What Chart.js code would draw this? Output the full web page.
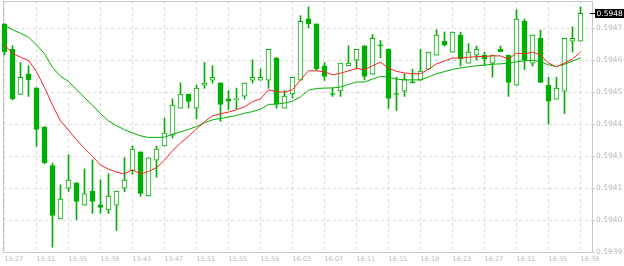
<!DOCTYPE html>
<html lang="en">
<head>
    <meta charset="UTF-8">
    <title>Chart</title>
    <script src="https://cdn.jsdelivr.net/npm/chart.js"></script>
    <style>
        body { margin: 0; background: #fff; }
        canvas { display: block; }
    </style>
</head>
<body>
    <canvas id="priceChart" width="624" height="266"></canvas>

    <script>
        // candles, one per minute from 15:27 to 16:39
        const opens = [
            0.594756, 0.594662, 0.594491, 0.594569, 0.594516, 0.594370, 0.594224, 0.594024, 0.594140, 0.594160,
            0.594076, 0.594129, 0.594077, 0.594058, 0.594076, 0.594140, 0.594205, 0.594276, 0.594110, 0.594245,
            0.594298, 0.594338, 0.594440, 0.594493, 0.594440, 0.594526, 0.594545, 0.594535, 0.594475, 0.594472,
            0.594485, 0.594545, 0.594545, 0.594545, 0.594629, 0.594440, 0.594493, 0.594545, 0.594775, 0.594756,
            0.594599, 0.594491, 0.594505, 0.594598, 0.594620, 0.594674, 0.594567, 0.594674, 0.594662, 0.594491,
            0.594504, 0.594535, 0.594545, 0.594586, 0.594639, 0.594691, 0.594650, 0.594714, 0.594609, 0.594639,
            0.594639, 0.594609, 0.594661, 0.594639, 0.594526, 0.594766, 0.594609, 0.594702, 0.594526, 0.594474,
            0.594504, 0.594691, 0.594691
        ];
        const highs = [
            0.594756, 0.594674, 0.594611, 0.594599, 0.594516, 0.594370, 0.594234, 0.594152, 0.594265, 0.594160,
            0.594212, 0.594246, 0.594171, 0.594194, 0.594129, 0.594254, 0.594298, 0.594276, 0.594253, 0.594298,
            0.594402, 0.594475, 0.594535, 0.594493, 0.594527, 0.594611, 0.594599, 0.594535, 0.594506, 0.594515,
            0.594534, 0.594621, 0.594587, 0.594661, 0.594629, 0.594506, 0.594556, 0.594787, 0.594820, 0.594756,
            0.594611, 0.594515, 0.594609, 0.594674, 0.594661, 0.594674, 0.594716, 0.594694, 0.594662, 0.594556,
            0.594569, 0.594586, 0.594661, 0.594650, 0.594734, 0.594726, 0.594725, 0.594725, 0.594682, 0.594673,
            0.594650, 0.594639, 0.594673, 0.594639, 0.594809, 0.594775, 0.594714, 0.594733, 0.594556, 0.594556,
            0.594702, 0.594745, 0.594820
        ];
        const lows = [
            0.594640, 0.594471, 0.594491, 0.594484, 0.594296, 0.594231, 0.593918, 0.594024, 0.594127, 0.594021,
            0.594076, 0.594045, 0.594045, 0.594045, 0.593981, 0.594127, 0.594192, 0.594109, 0.594110, 0.594181,
            0.594298, 0.594328, 0.594440, 0.594440, 0.594399, 0.594514, 0.594534, 0.594390, 0.594434, 0.594437,
            0.594474, 0.594534, 0.594545, 0.594515, 0.594439, 0.594440, 0.594478, 0.594545, 0.594741, 0.594581,
            0.594544, 0.594484, 0.594484, 0.594598, 0.594587, 0.594546, 0.594567, 0.594629, 0.594439, 0.594431,
            0.594484, 0.594534, 0.594545, 0.594586, 0.594639, 0.594673, 0.594650, 0.594598, 0.594609, 0.594620,
            0.594599, 0.594556, 0.594652, 0.594484, 0.594526, 0.594584, 0.594598, 0.594536, 0.594380, 0.594474,
            0.594420, 0.594650, 0.594691
        ];
        const closes = [
            0.594652, 0.594475, 0.594556, 0.594547, 0.594360, 0.594235, 0.594037, 0.594099, 0.594170, 0.594090,
            0.594118, 0.594090, 0.594067, 0.594110, 0.594129, 0.594170, 0.594286, 0.594120, 0.594253, 0.594286,
            0.594346, 0.594451, 0.594493, 0.594465, 0.594515, 0.594534, 0.594556, 0.594454, 0.594466, 0.594475,
            0.594534, 0.594556, 0.594556, 0.594661, 0.594455, 0.594485, 0.594556, 0.594766, 0.594757, 0.594587,
            0.594559, 0.594491, 0.594609, 0.594609, 0.594661, 0.594559, 0.594702, 0.594674, 0.594476, 0.594491,
            0.594547, 0.594535, 0.594579, 0.594650, 0.594714, 0.594676, 0.594725, 0.594626, 0.594650, 0.594661,
            0.594624, 0.594639, 0.594652, 0.594536, 0.594774, 0.594621, 0.594714, 0.594536, 0.594466, 0.594515,
            0.594702, 0.594702, 0.594796
        ];
        // moving averages as drawn (fast red, slow green)
        const maFast = [
            0.594677, 0.594646, 0.594631, 0.594619, 0.594577, 0.594518, 0.594451, 0.594392, 0.594357, 0.594321,
            0.594289, 0.594259, 0.594226, 0.594211, 0.594200, 0.594193, 0.594209, 0.594193, 0.594202, 0.594217,
            0.594244, 0.594280, 0.594309, 0.594334, 0.594362, 0.594389, 0.594411, 0.594419, 0.594425, 0.594434,
            0.594445, 0.594464, 0.594475, 0.594509, 0.594502, 0.594500, 0.594509, 0.594546, 0.594580, 0.594580,
            0.594576, 0.594565, 0.594571, 0.594580, 0.594589, 0.594584, 0.594599, 0.594613, 0.594590, 0.594578,
            0.594572, 0.594569, 0.594569, 0.594586, 0.594606, 0.594617, 0.594628, 0.594628, 0.594631, 0.594633,
            0.594634, 0.594636, 0.594636, 0.594624, 0.594646, 0.594644, 0.594650, 0.594640, 0.594609, 0.594595,
            0.594609, 0.594624, 0.594650
        ];
        const maSlow = [
            0.594751, 0.594734, 0.594721, 0.594706, 0.594677, 0.594644, 0.594593, 0.594559, 0.594540, 0.594509,
            0.594479, 0.594451, 0.594419, 0.594392, 0.594374, 0.594359, 0.594347, 0.594336, 0.594330, 0.594330,
            0.594331, 0.594342, 0.594351, 0.594360, 0.594371, 0.594385, 0.594396, 0.594401, 0.594407, 0.594412,
            0.594421, 0.594427, 0.594436, 0.594454, 0.594455, 0.594459, 0.594466, 0.594482, 0.594507, 0.594514,
            0.594515, 0.594516, 0.594519, 0.594529, 0.594538, 0.594538, 0.594549, 0.594559, 0.594556, 0.594549,
            0.594546, 0.594546, 0.594546, 0.594557, 0.594569, 0.594577, 0.594585, 0.594591, 0.594595, 0.594599,
            0.594601, 0.594605, 0.594606, 0.594609, 0.594614, 0.594618, 0.594619, 0.594615, 0.594602, 0.594596,
            0.594605, 0.594616, 0.594628
        ];

        const xTickPositions = [0, 4, 8, 12, 16, 20, 24, 28, 32, 36, 40, 44, 48, 52, 56, 60, 64, 68, 72];
        const xTickLabels = ['15:27', '15:31', '15:35', '15:39', '15:43', '15:47', '15:51', '15:55', '15:59', '16:03',
                             '16:07', '16:11', '16:15', '16:19', '16:23', '16:27', '16:31', '16:35', '16:39'];
        const yTickValues = [0.59474, 0.59462, 0.5945, 0.59438, 0.59426, 0.59414, 0.59402, 0.5939];
        const yTickLabels = ['0.5947', '0.5946', '0.5945', '0.5944', '0.5943', '0.5941', '0.5940', '0.5939'];

        const green = '#00b000';
        const gridColor = '#dcdcdc';
        const labelColor = '#b8b8b8';

        // plot frame
        const framePlugin = {
            id: 'frame',
            beforeDatasetsDraw(chart) {
                const { ctx, chartArea: a } = chart;
                ctx.save();
                ctx.strokeStyle = '#c8c8c8';
                ctx.lineWidth = 1;
                ctx.strokeRect(a.left + 0.5, a.top + 0.5, a.right - a.left, a.bottom - a.top);
                ctx.restore();
            }
        };

        // last price marker on the right axis
        const lastPricePlugin = {
            id: 'lastPrice',
            afterDraw(chart) {
                const { ctx, chartArea: a, scales } = chart;
                const last = closes[closes.length - 1];
                const py = Math.round(scales.y.getPixelForValue(last)) + 0.5;
                const txt = last.toFixed(4);
                ctx.save();
                ctx.font = '7.5px "DejaVu Sans"';
                const w = ctx.measureText(txt).width;
                ctx.strokeStyle = '#000';
                ctx.beginPath();
                ctx.moveTo(a.right - 2, py);
                ctx.lineTo(a.right + 3, py);
                ctx.stroke();
                ctx.fillStyle = '#000';
                ctx.fillRect(a.right + 3, py - 4.5, w + 3, 9);
                ctx.fillStyle = '#fff';
                ctx.textBaseline = 'middle';
                ctx.fillText(txt, a.right + 4.5, py + 0.5);
                ctx.restore();
            }
        };

        // fixed axis sizes, no extra label padding
        const fixX = s => { s.height = 14; s.paddingLeft = 0; s.paddingRight = 0; };
        const fixY = s => { s.width = 32; s.paddingTop = 0; s.paddingBottom = 0; };

        const idx = closes.map((c, i) => i);

        new Chart(document.getElementById('priceChart'), {
            type: 'bar',
            data: {
                datasets: [
                    {
                        type: 'line',
                        data: idx.map(i => ({ x: i, y: maFast[i] })),
                        borderColor: '#ff2020',
                        borderWidth: 1,
                        pointRadius: 0,
                        tension: 0
                    },
                    {
                        type: 'line',
                        data: idx.map(i => ({ x: i, y: maSlow[i] })),
                        borderColor: green,
                        borderWidth: 1,
                        pointRadius: 0,
                        tension: 0
                    },
                    {
                        // bodies
                        data: idx.map(i => ({ x: i, y: [opens[i], closes[i]] })),
                        backgroundColor: c => closes[c.dataIndex] > opens[c.dataIndex] ? '#ffffff' : green,
                        borderColor: green,
                        borderWidth: 1,
                        borderSkipped: false,
                        barThickness: 5,
                        minBarLength: 1,
                        grouped: false,
                        clip: false
                    },
                    {
                        // wicks
                        data: idx.map(i => ({ x: i, y: [lows[i], highs[i]] })),
                        backgroundColor: green,
                        borderWidth: 0,
                        barThickness: 1,
                        minBarLength: 1,
                        grouped: false,
                        clip: false
                    }
                ]
            },
            options: {
                responsive: false,
                animation: false,
                devicePixelRatio: 1,
                layout: { autoPadding: false, padding: { left: 3, top: 1, right: 0, bottom: 0 } },
                plugins: { legend: { display: false }, tooltip: { enabled: false } },
                scales: {
                    x: {
                        type: 'linear',
                        offset: false,
                        min: -0.1875,
                        max: 73.4375,
                        afterBuildTicks: s => { s.ticks = xTickPositions.map(v => ({ value: v })); },
                        afterFit: fixX,
                        grid: { color: gridColor, drawTicks: false, offset: false },
                        border: { display: false, dash: [3, 3] },
                        ticks: {
                            align: 'start',
                            autoSkip: false,
                            maxRotation: 0,
                            minRotation: 0,
                            padding: 3,
                            color: labelColor,
                            font: { family: 'DejaVu Sans', size: 6.5 },
                            callback: (v, i) => xTickLabels[i]
                        }
                    },
                    y: {
                        type: 'linear',
                        position: 'right',
                        min: 0.5939,
                        max: 0.594842,
                        afterBuildTicks: s => { s.ticks = yTickValues.map(v => ({ value: v })); },
                        afterFit: fixY,
                        grid: { color: gridColor, drawTicks: true, tickLength: 3, tickColor: '#c8c8c8', tickBorderDash: [] },
                        border: { display: false, dash: [3, 3] },
                        ticks: {
                            padding: 1,
                            color: labelColor,
                            font: { family: 'DejaVu Sans', size: 7.5 },
                            callback: (v, i) => yTickLabels[i]
                        }
                    }
                }
            },
            plugins: [framePlugin, lastPricePlugin]
        });
    </script>
</body>
</html>
